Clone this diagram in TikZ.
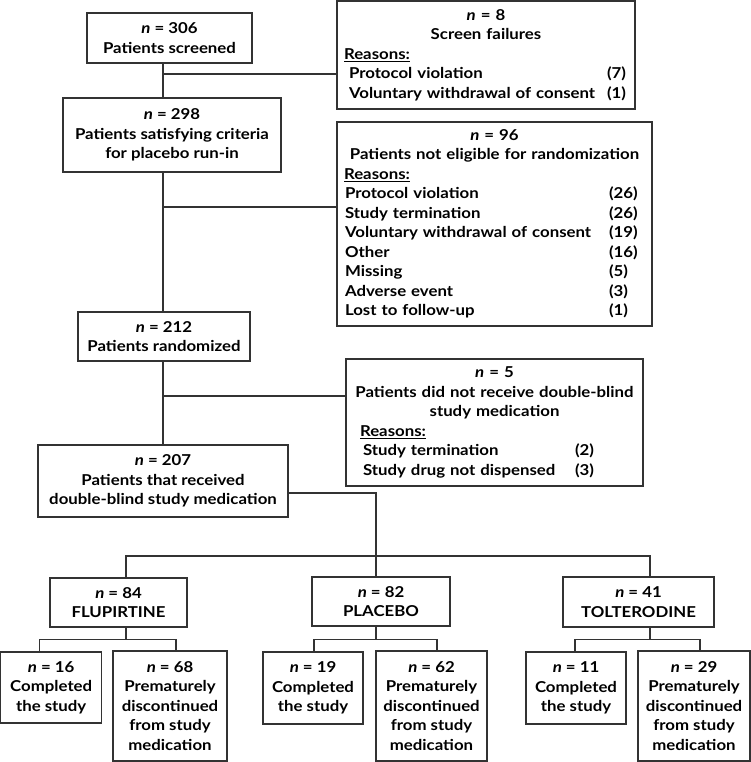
\documentclass[tikz,border=0pt]{standalone}
\usepackage{fontspec}
\setmainfont[FakeStretch=1.12]{Lato}
\usetikzlibrary{calc}
\newcommand{\why}[3]{\makebox[#1][l]{#2}#3}
\tikzset{%
  % Specifications for style of nodes:
         base/.style = {rectangle, draw=black!80, line width=1.2pt,
                        inner sep=0pt, align=center,
                        font=\fontsize{15}{19.5}\selectfont\bfseries},
        stage/.style = {base},
      reasons/.style = {base, align=left, inner xsep=7pt},
         link/.style = {draw=black!80, line width=1.2pt},
}
\begin{document}
\begin{tikzpicture}[x=1pt, y=-1pt]
  \useasboundingbox (0,0) rectangle (751,762);
  \node (screened)   [stage, minimum width=165, minimum height=50] at (169.5,38)
                     {\textit{n} = 306\\ Patients screened};
  \node (criteria)   [stage, minimum width=218, minimum height=74] at (172,135)
                     {\textit{n} = 298\\ Patients satisfying criteria\\ for placebo run-in};
  \node (randomized) [stage, minimum width=172, minimum height=49] at (164,336.5)
                     {\textit{n} = 212\\ Patients randomized};
  \node (received)   [stage, minimum width=250, minimum height=72] at (163,481)
                     {\textit{n} = 207\\ Patients that received\\ double-blind study medication};

  \node (fail)       [reasons, text width=284, minimum height=108] at (486,55)
                     {\makebox[284pt]{\textit{n} = 8}\\
                      \makebox[284pt]{Screen failures}\\
                      \underline{Reasons:}\\
                      \hspace*{5pt}\why{258pt}{Protocol violation}{(7)}\\
                      \hspace*{5pt}\why{258pt}{Voluntary withdrawal of consent}{(1)}};
  \node (inelig)     [reasons, text width=301, minimum height=204] at (494.5,224)
                     {\makebox[301pt]{\textit{n} = 96}\\
                      \makebox[301pt]{Patients not eligible for randomization}\\
                      \underline{Reasons:}\\
                      \hspace*{1pt}\why{264pt}{Protocol violation}{(26)}\\
                      \hspace*{1pt}\why{264pt}{Study termination}{(26)}\\
                      \hspace*{1pt}\why{264pt}{Voluntary withdrawal of consent}{(19)}\\
                      \hspace*{1pt}\why{264pt}{Other}{(16)}\\
                      \hspace*{1pt}\why{264pt}{Missing}{(5)}\\
                      \hspace*{1pt}\why{264pt}{Adverse event}{(3)}\\
                      \hspace*{1pt}\why{264pt}{Lost to follow-up}{(1)}};
  \node (nomed)      [reasons, text width=283, minimum height=127] at (494.5,422.5)
                     {\makebox[283pt]{\textit{n} = 5}\\
                      \makebox[283pt]{Patients did not receive double-blind}\\
                      \makebox[283pt]{study medication}\\
                      \hspace*{7pt}\underline{Reasons:}\\
                      \hspace*{10pt}\why{212pt}{Study termination}{(2)}\\
                      \hspace*{10pt}\why{212pt}{Study drug not dispensed}{(3)}};

  \node (flupirtine)  [stage, minimum width=137, minimum height=49] at (118.5,602.5)
                      {\textit{n} = 84\\ FLUPIRTINE};
  \node (placebo)     [stage, minimum width=138, minimum height=49] at (381,601.5)
                      {\textit{n} = 82\\ PLACEBO};
  \node (tolterodine) [stage, minimum width=151, minimum height=50] at (638.5,602)
                      {\textit{n} = 41\\ TOLTERODINE};

  \node (fluDone) [stage, minimum width=101, minimum height=71] at (51.2,687.5)
                  {\textit{n} = 16\\ Completed\\ the study};
  \node (fluQuit) [stage, minimum width=114, minimum height=110] at (170,706)
                  {\textit{n} = 68\\ Prematurely\\ discontinued\\ from study\\ medication};
  \node (plaDone) [stage, minimum width=100, minimum height=72] at (313,688)
                  {\textit{n} = 19\\ Completed\\ the study};
  \node (plaQuit) [stage, minimum width=111, minimum height=110] at (431.5,706)
                  {\textit{n} = 62\\ Prematurely\\ discontinued\\ from study\\ medication};
  \node (tolDone) [stage, minimum width=100, minimum height=72] at (576,688)
                  {\textit{n} = 11\\ Completed\\ the study};
  \node (tolQuit) [stage, minimum width=112, minimum height=110] at (694,706)
                  {\textit{n} = 29\\ Prematurely\\ discontinued\\ from study\\ medication};

  % main column and the side branches
  \coordinate (spine)     at (163,0);
  \coordinate (failTap)   at (163,74);
  \coordinate (ineligTap) at (163,207);
  \coordinate (nomedTap)  at (163,396);
  \draw[link] (screened.south -| spine) -- (criteria.north -| spine);
  \draw[link] (criteria.south -| spine) -- (randomized.north -| spine);
  \draw[link] (randomized.south -| spine) -- (received.north -| spine);
  \draw[link] (failTap) -- (failTap -| fail.west);
  \draw[link] (ineligTap) -- (ineligTap -| inelig.west);
  \draw[link] (nomedTap) -- (nomedTap -| nomed.west);

  % split into the three arms
  \coordinate (armSplit) at (376,556);
  \coordinate (fluDrop)  at (126,556);
  \coordinate (tolDrop)  at (650,556);
  \draw[link] ($(received.east)+(0,12)$) -| (armSplit);
  \draw[link] (fluDrop |- flupirtine.north) -- (fluDrop) -- (tolDrop) -- (tolDrop |- tolterodine.north);
  \draw[link] (armSplit) -- (armSplit |- placebo.north);

  % outcome of each arm
  \draw[link] (flupirtine.south -| fluDrop) -- ++(0,12) coordinate (fluSplit);
  \draw[link] ($(fluDone.north)+(-11.5,0)$) |- (fluSplit) -| ($(fluQuit.north)+(6,0)$);
  \draw[link] (placebo.south -| armSplit) -- ++(0,12.5) coordinate (plaSplit);
  \draw[link] ($(plaDone.north)+(1,0)$) |- (plaSplit) -| ($(plaQuit.north)+(5.5,0)$);
  \draw[link] (tolterodine.south -| tolDrop) -- ++(0,12) coordinate (tolSplit);
  \draw[link] ($(tolDone.north)+(-1,0)$) |- (tolSplit) -| ($(tolQuit.north)+(6,0)$);
\end{tikzpicture}
\end{document}
